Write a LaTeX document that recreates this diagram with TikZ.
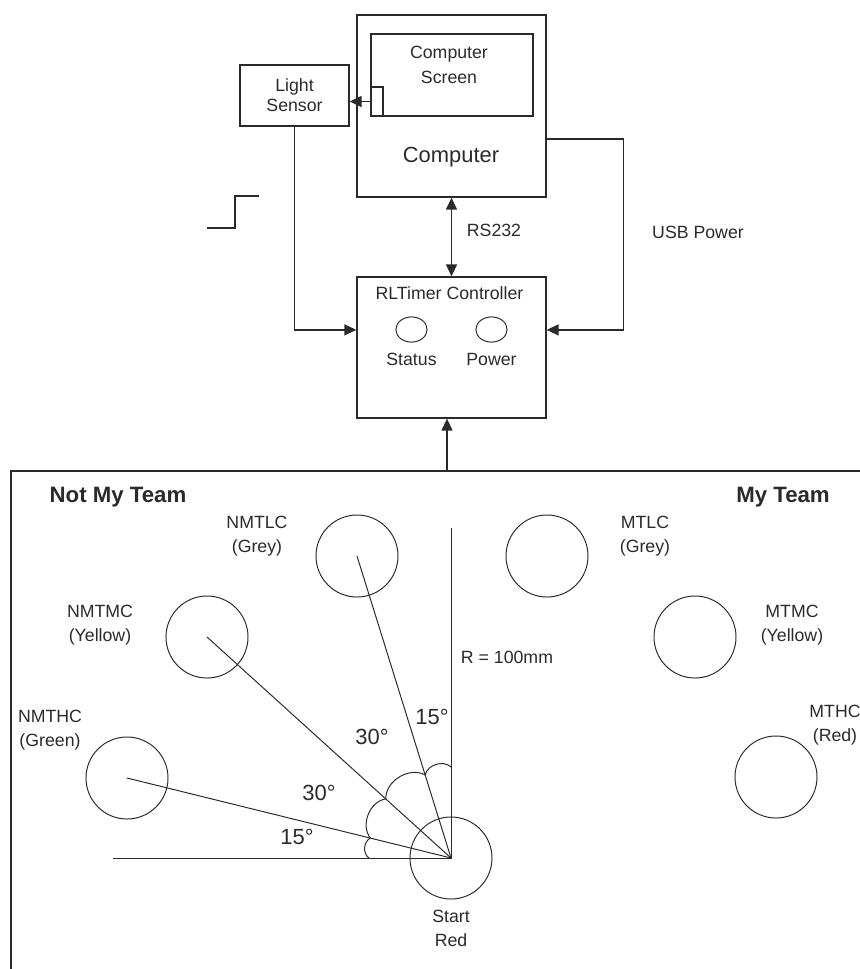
\documentclass[tikz,border=0pt]{standalone}
\usepackage{fontspec}
\setmainfont{Liberation Sans}
\usepackage{tikz}
\usetikzlibrary{positioning, arrows.meta, shapes.geometric, calc}
\definecolor{lineGrey}{HTML}{2A2A2A}

\begin{document}
\begin{tikzpicture}[
        x=0.025cm, y=0.025cm, font=\fontsize{12.6}{17}\selectfont,
        every node/.style={text=lineGrey},
        box/.style={draw=lineGrey, line width=0.9pt, inner sep=0pt},
        txt/.style={align=center, inner sep=0pt},
        bigtxt/.style={txt, font=\fontsize{15.6}{19}\selectfont},
        team/.style={txt, font=\fontsize{15.8}{19}\selectfont\bfseries},
        ball/.style={circle, draw=lineGrey, line width=0.7pt, minimum size=2.05cm, inner sep=0pt},
        led/.style={ellipse, draw=lineGrey, line width=0.7pt, minimum width=0.78cm, minimum height=0.63cm, inner sep=0pt},
        arr/.style={-{Triangle[length=8.5pt, width=7.8pt]}, line width=0.9pt, draw=lineGrey},
        dblarr/.style={{Triangle[length=8.5pt, width=7.8pt]}-{Triangle[length=8.5pt, width=7.8pt]}, line width=0.9pt, draw=lineGrey},
        ray/.style={line width=0.7pt, draw=lineGrey},
        wall/.style={line width=1.1pt, draw=lineGrey}]
        \useasboundingbox (0,0) rectangle (860,-969);
        % computer and sensor
        \node[box, minimum width=4.725cm, minimum height=4.55cm] (comp) at (451.5,-106) {};
        \node[box, minimum width=4.05cm, minimum height=2.05cm] (screen) at (452,-75) {};
        \node[box, minimum width=0.3cm, minimum height=0.725cm] (tab) at (377,-101.5) {};
        \node[txt, font=\fontsize{12.6}{17.8}\selectfont] (scrtxt) at (449,-64.5) {Computer\\Screen};
        \node[bigtxt] (comptxt) at (451,-157) {Computer};
        \node[box, txt, minimum width=2.725cm, minimum height=1.525cm, font=\fontsize{12.6}{14.2}\selectfont] (sensor) at (294.5,-95.5) {Light\\Sensor};
        \draw[ray, line width=0.9pt] (207,-228) -- (235,-228) -- (235,-196) -- (259,-196);
        % controller
        \node[box, minimum width=4.725cm, minimum height=3.525cm] (ctrl) at (451.5,-347.5) {};
        \node[txt] (ctrltxt) at (449.5,-293) {RLTimer Controller};
        \node[led] (ledS) at (411.5,-329.5) {};
        \node[led] (ledP) at (491.5,-329.5) {};
        \node[txt, below=0.26cm of ledS] (status) {Status};
        \node[txt, below=0.26cm of ledP] (power) {Power};
        \node[txt] (rs) at (494,-230) {RS232};
        \node[txt] (usb) at (698,-232) {USB Power};
        \draw[arr] (tab.west) -- (tab.west -| sensor.east);
        \draw[arr] (sensor.south) |- ([yshift=0.44cm]ctrl.west);
        \draw[dblarr] (comp.south) -- (ctrl.north);
        \draw[arr] ([yshift=-0.825cm]comp.east) -- ++(77,0) |- ([yshift=0.44cm]ctrl.east);
        % arena
        \draw[wall] (11,-995) -- (11,-471) -- (875,-471);
        \coordinate (feed) at (447,-471);
        \draw[arr] (feed) -- (feed |- ctrl.south);
        \node[team] (nmt) at (118,-497) {Not My Team};
        \node[team] (mt) at (783,-497) {My Team};
        \node[ball] (nmtlc) at (357,-556) {};
        \node[ball] (nmtmc) at (207,-637) {};
        \node[ball] (nmthc) at (127,-778) {};
        \node[ball] (mtlc) at (547,-556) {};
        \node[ball] (mtmc) at (695,-637) {};
        \node[ball] (mthc) at (776,-777) {};
        \node[ball] (start) at (451,-858) {};
        \node[txt] (nmtlcL) at (257,-536) {NMTLC\\(Grey)};
        \node[txt] (nmtmcL) at (100,-625) {NMTMC\\(Yellow)};
        \node[txt] (nmthcL) at (50,-730) {NMTHC\\(Green)};
        \node[txt] (mtlcL) at (645,-536) {MTLC\\(Grey)};
        \node[txt] (mtmcL) at (792,-625) {MTMC\\(Yellow)};
        \node[txt] (mthcL) at (835,-725) {MTHC\\(Red)};
        \node[txt] (startL) at (451,-928) {Start\\Red};
        \node[txt] (radius) at (507,-657) {R = 100mm};
        % angles
        \coordinate (hz) at (113,-858);
        \coordinate (vt) at (451,-528);
        \draw[ray] (hz) -- (start.center) -- (vt);
        \foreach \b in {nmthc, nmtmc, nmtlc} \draw[ray] (\b.center) -- (start.center);
        \draw[ray] ($(start.center)!2.275cm!(vt)$) to[bend right=60] ($(start.center)!2.175cm!(nmtlc.center)$)
              to[bend right=60] ($(start.center)!2.2cm!(nmtmc.center)$)
              to[bend right=60] ($(start.center)!2.075cm!(nmthc.center)$)
              to[bend right=60] ($(start.center)!2.05cm!(hz)$);
        \node[bigtxt] (angA) at (432,-717) {15°};
        \node[bigtxt] (angB) at (372,-737) {30°};
        \node[bigtxt] (angC) at (319,-793) {30°};
        \node[bigtxt] (angD) at (297,-837) {15°};
      \end{tikzpicture}
\end{document}
